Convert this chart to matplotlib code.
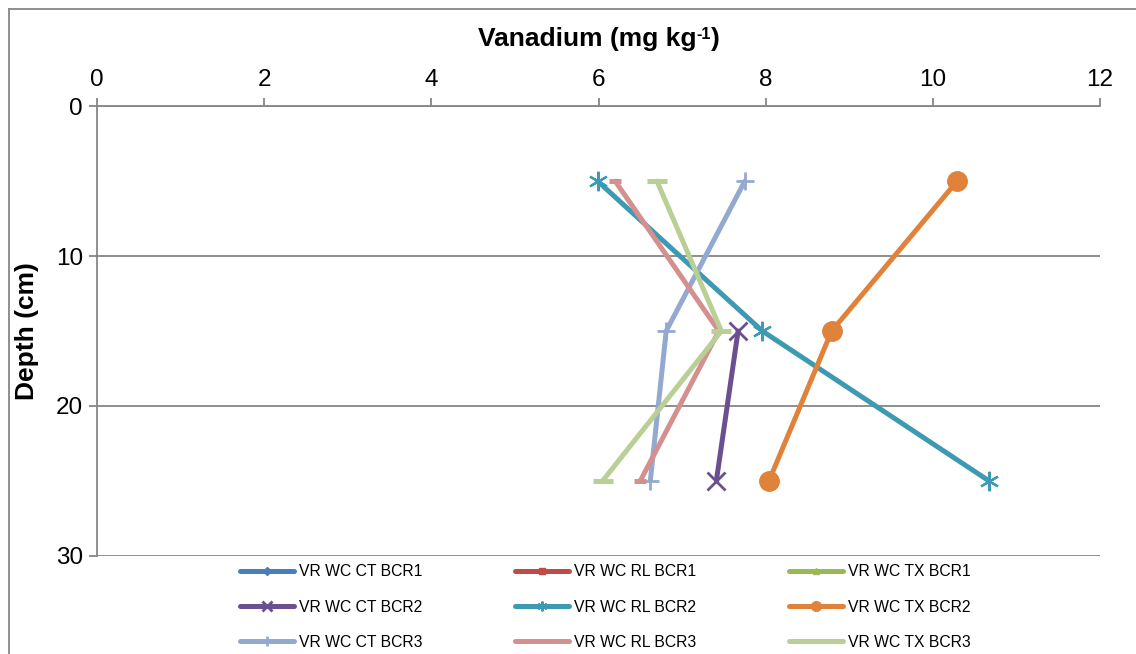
import numpy as np
import matplotlib
matplotlib.use("Agg")
import matplotlib.pyplot as plt
from matplotlib.lines import Line2D

plt.rcParams['font.family'] = ['Liberation Sans', 'DejaVu Sans']

# Sampling depths (cm)
depths = [5, 15, 25]

# Vanadium concentrations (mg/kg) per series; nan = no measurement
ct_bcr1 = [np.nan, np.nan, np.nan]
rl_bcr1 = [np.nan, np.nan, np.nan]
tx_bcr1 = [np.nan, np.nan, np.nan]
ct_bcr2 = [np.nan, 7.67, 7.41]
rl_bcr2 = [5.99, 7.96, 10.67]
tx_bcr2 = [10.29, 8.79, 8.04]
ct_bcr3 = [7.75, 6.81, 6.62]
rl_bcr3 = [6.20, 7.44, 6.50]
tx_bcr3 = [6.70, 7.47, 6.05]

series_names = ["VR WC CT BCR1", "VR WC RL BCR1", "VR WC TX BCR1",
                "VR WC CT BCR2", "VR WC RL BCR2", "VR WC TX BCR2",
                "VR WC CT BCR3", "VR WC RL BCR3", "VR WC TX BCR3"]
series_values = [ct_bcr1, rl_bcr1, tx_bcr1,
                 ct_bcr2, rl_bcr2, tx_bcr2,
                 ct_bcr3, rl_bcr3, tx_bcr3]

colors = ["#4A7EBB", "#BE4B48", "#98B954",
          "#6B5091", "#3E9AB3", "#E0823A",
          "#93A9CF", "#D4908E", "#B9CF95"]
markers = ["D", "s", "^", "x", (6, 2, 0), "o", "+", "_", "_"]
msizes = [9, 9, 9, 13, 14, 14, 13, 9, 14]
mews = [1, 1, 1, 2.0, 1.6, 1, 2.0, 3.6, 3.6]

x_ticks = [0, 2, 4, 6, 8, 10, 12]
y_ticks = [0, 10, 20, 30]

W, H = 1136, 654
fig = plt.figure(figsize=(W / 100, H / 100), dpi=100)
ax = fig.add_axes([97 / W, 1 - 555.7 / H, (1100 - 97) / W, (555.7 - 106.3) / H])

handles = []
for name, vals, c, m, ms, mew in zip(series_names, series_values, colors, markers, msizes, mews):
    h, = ax.plot(vals, depths, color=c, lw=3.6, marker=m, markersize=ms,
                 markeredgewidth=mew, markeredgecolor=c, markerfacecolor=c,
                 label=name, solid_capstyle='round', solid_joinstyle='round')
    handles.append(h)

ax.set_xlim(0, 12)
ax.set_ylim(30, 0)
ax.set_xticks(x_ticks)
ax.set_yticks(y_ticks)
ax.xaxis.tick_top()

grey = "#868686"
for side in ['right', 'bottom']:
    ax.spines[side].set_visible(False)
for side in ['top', 'left']:
    ax.spines[side].set_color(grey)
    ax.spines[side].set_linewidth(1.3)
ax.yaxis.grid(True, color=grey, lw=1.3)
ax.set_axisbelow(True)
ax.tick_params(axis='both', colors=grey, labelcolor='black', labelsize=17.5,
               length=6, width=1.3, direction='out')
ax.tick_params(axis='x', pad=5)
ax.tick_params(axis='y', pad=4)

ax.set_ylabel('Depth (cm)', fontsize=19, fontweight='bold')
ax.yaxis.set_label_coords((39 - 97) / 1003, 0.5)

# Axis title with a superscript exponent, centred over the plot area
renderer = fig.canvas.get_renderer()
baseline_y = 1 - 46 / H
t1 = fig.text(0, baseline_y, "Vanadium (mg kg", fontsize=19, fontweight='bold', va='baseline')
t2 = fig.text(0, baseline_y + 7 / H, "-1", fontsize=11.8, fontweight='bold', va='baseline')
t3 = fig.text(0, baseline_y, ")", fontsize=19, fontweight='bold', va='baseline')
w1 = t1.get_window_extent(renderer).width
w2 = t2.get_window_extent(renderer).width
w3 = t3.get_window_extent(renderer).width
total = w1 + w2 + w3
x0 = (97 + 1100) / 2 - total / 2
t1.set_x(x0 / W)
t2.set_x((x0 + w1) / W)
t3.set_x((x0 + w1 + w2) / W)

# Legend entries read row by row across three columns
order = [0, 3, 6, 1, 4, 7, 2, 5, 8]
leg = fig.legend([handles[i] for i in order], [series_names[i] for i in order],
                 loc='center', bbox_to_anchor=(605 / W, 1 - 607 / H),
                 ncol=3, frameon=False, fontsize=11.3, handlelength=3.44,
                 handletextpad=0.32, columnspacing=5.9, labelspacing=1.3,
                 markerscale=0.5, borderpad=0)

# chart-area frame
fig.add_artist(Line2D([8.5 / W, 8.5 / W], [0, 1 - 8.5 / H],
                      transform=fig.transFigure, color=grey, lw=1.3))
fig.add_artist(Line2D([8.5 / W, 1], [1 - 8.5 / H, 1 - 8.5 / H],
                      transform=fig.transFigure, color=grey, lw=1.3))

fig.savefig("out.png", dpi=100)
